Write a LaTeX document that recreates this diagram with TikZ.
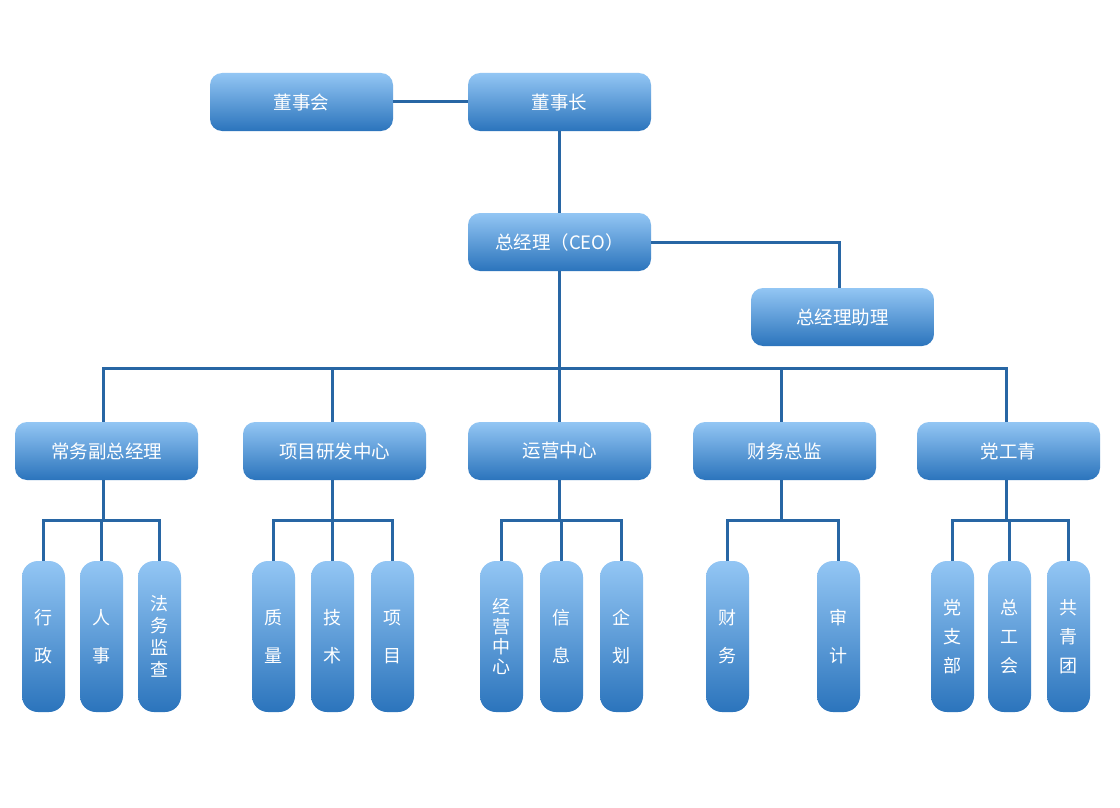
\documentclass[tikz,border=0pt]{standalone}
\usepackage{fontspec}
\setmainfont{Noto Sans CJK SC}
\begin{document}
\begin{tikzpicture}[x=1pt,y=-1pt,
    box/.style={rounded corners=12pt, top color=boxTop, bottom color=boxBottom,
        text=white, minimum width=183pt, minimum height=58pt,
        font=\fontsize{18.5}{20}\selectfont},
    vbox/.style={rounded corners=16pt, top color=boxTop, bottom color=boxBottom,
        text=white, minimum width=43pt, minimum height=151pt, align=center,
        inner sep=0pt, font=\fontsize{18}{#1}\selectfont},
    link/.style={draw=lineColour, line width=3pt}]
    % Define colours
    \definecolor{boxTop}{HTML}{93C6F4}
    \definecolor{boxBottom}{HTML}{2B74BC}
    \definecolor{lineColour}{HTML}{2866A4}

    % Fix the page size
    \useasboundingbox[fill=white] (0,0) rectangle (1120,808);

    % Top of the chart
    \node[box] (board) at (301.5,102) {董事会};
    \node[box] (chair) at (559.5,102) {董事长};
    \node[box] (ceo) at (559.5,242) {总经理（CEO）};
    \node[box] (assist) at (842.5,317) {总经理助理};

    % Departments
    \node[box] (vp) at (106.5,451) {常务副总经理};
    \node[box] (rd) at (334.5,451) {项目研发中心};
    \node[box] (ops) at (559.5,451) {运营中心};
    \node[box] (fin) at (784.5,451) {财务总监};
    \node[box] (party) at (1008.5,451) {党工青};

    % Sections, written top to bottom
    \node[vbox=38] (admin) at (43.5,636.5) {行\\政};
    \node[vbox=38] (hr) at (101.5,636.5) {人\\事};
    \node[vbox=22] (legal) at (159.5,636.5) {法\\务\\监\\查};
    \node[vbox=38] (quality) at (273.5,636.5) {质\\量};
    \node[vbox=38] (tech) at (332.5,636.5) {技\\术};
    \node[vbox=38] (project) at (392.5,636.5) {项\\目};
    \node[vbox=20] (biz) at (501.5,636.5) {经\\营\\中\\心};
    \node[vbox=38] (info) at (561.5,636.5) {信\\息};
    \node[vbox=38] (plan) at (621.5,636.5) {企\\划};
    \node[vbox=38] (acct) at (727.5,636.5) {财\\务};
    \node[vbox=38] (audit) at (838.5,636.5) {审\\计};
    \node[vbox=29] (branch) at (952.5,636.5) {党\\支\\部};
    \node[vbox=29] (union) at (1009.5,636.5) {总\\工\\会};
    \node[vbox=29] (league) at (1068.5,636.5) {共\\青\\团};

    % Draw the connectors
    \draw[link] (board) -- (chair);
    \draw[link] (chair) -- (ceo);
    \draw[link] (ceo.east) -| ([xshift=-3pt]assist.north);
    \coordinate (bus) at (559.5,368);
    \draw[link] (ceo) -- (bus);
    \foreach \n/\s in {vp/-3,rd/-2.5,ops/0,fin/-3,party/-2.5}
        \draw[link] (bus) -| ([xshift=\s pt]\n.north);
    \foreach \p/\s/\c in {vp/-3/admin,vp/-3/hr,vp/-3/legal,
            rd/-2.5/quality,rd/-2.5/tech,rd/-2.5/project,
            ops/0/biz,ops/0/info,ops/0/plan,fin/-3/acct,fin/-3/audit,
            party/-2.5/branch,party/-2.5/union,party/-2.5/league}
        \draw[link] ([xshift=\s pt]\p.south) -- ++(0,40) -| (\c.north);
\end{tikzpicture}
\end{document}
